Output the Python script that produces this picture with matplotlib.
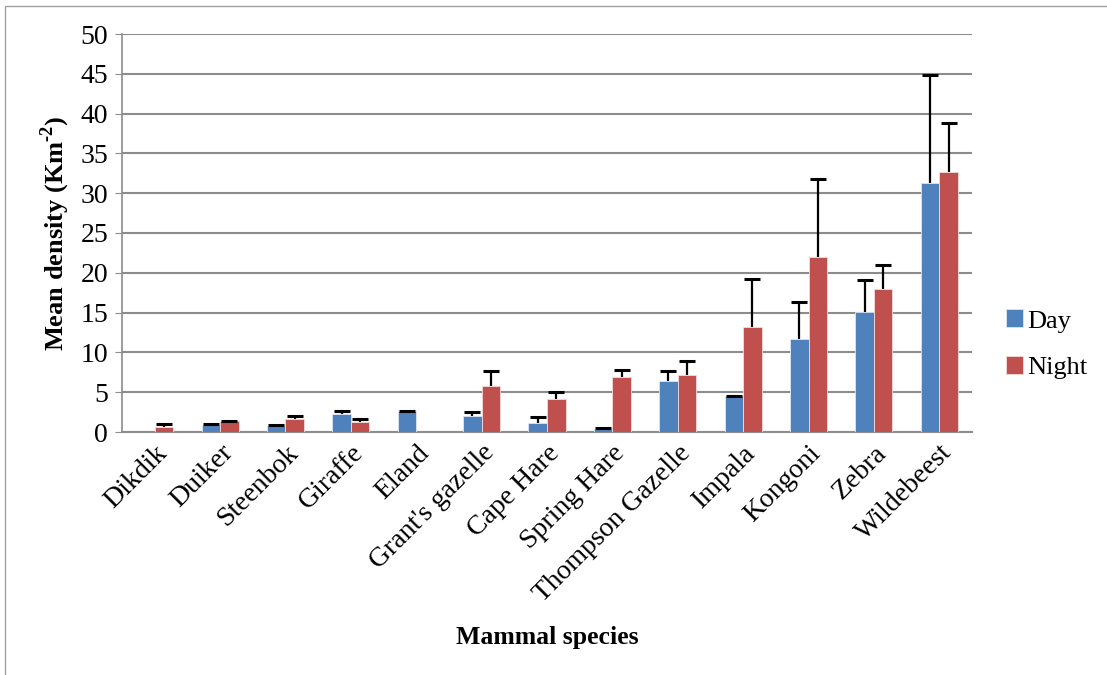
import numpy as np
import matplotlib.pyplot as plt
from matplotlib.patches import Rectangle

# Mean density per species, day vs night, with upper error (SE)
species = ["Dikdik", "Duiker", "Steenbok", "Giraffe", "Eland", "Grant's gazelle",
           "Cape Hare", "Spring Hare", "Thompson Gazelle", "Impala", "Kongoni",
           "Zebra", "Wildebeest"]
day = [0.0, 0.92, 0.8, 2.26, 2.64, 1.97, 1.09, 0.42, 6.4, 4.52, 11.72, 15.04, 31.28]
day_err = [0.0, 0.05, 0.06, 0.42, 0.06, 0.58, 0.76, 0.04, 1.22, 0.05, 4.61, 4.02, 13.57]
night = [0.67, 1.34, 1.6, 1.26, 0.0, 5.78, 4.1, 6.95, 7.12, 13.19, 21.95, 17.93, 32.62]
night_err = [0.3, 0.05, 0.45, 0.37, 0.0, 1.88, 0.88, 0.84, 1.84, 6.0, 9.8, 3.01, 6.24]

blue = "#4F81BD"
red = "#C0504D"
grid_col = "#8C8C8C"

plt.rcParams['font.family'] = ['Liberation Serif', 'DejaVu Serif']
plt.rcParams['mathtext.fontset'] = 'custom'
plt.rcParams['mathtext.rm'] = 'Liberation Serif:bold'
plt.rcParams['mathtext.bf'] = 'Liberation Serif:bold'


def upper_errors(ax, xs, vals, errs):
    """Plus-only error bars with a single cap, skipped where there is no bar."""
    xs = np.asarray(xs)
    vals = np.asarray(vals)
    errs = np.asarray(errs)
    keep = vals > 0
    xs, vals, errs = xs[keep], vals[keep], errs[keep]
    ax.vlines(xs, vals, vals + errs, color="black", linewidth=1.6, zorder=4)
    ax.plot(xs, vals + errs, linestyle="none", marker="_", markersize=11,
            markeredgewidth=2.2, color="black", zorder=4)


fig = plt.figure(figsize=(11.07, 6.75), dpi=100)
ax = fig.add_axes([122 / 1107, 1 - 432 / 675, (972 - 122) / 1107, (432 - 34) / 675])

# outer chart frame
fig.patches.append(Rectangle((5 / 1107, -0.01), 1.02, 1 - 6 / 675 + 0.01,
                             transform=fig.transFigure, fill=False,
                             edgecolor="#A0A0A0", linewidth=1.0))

x = np.arange(len(species))
w = 0.284
ax.bar(x - w / 2, day, w, color=blue, edgecolor="#DCE6F2", linewidth=0.6,
       label="Day", zorder=3)
ax.bar(x + w / 2, night, w, color=red, edgecolor="#F2DCDB", linewidth=0.6,
       label="Night", zorder=3)
upper_errors(ax, x - w / 2, day, day_err)
upper_errors(ax, x + w / 2, night, night_err)

ax.set_xlim(-0.5, len(species) - 0.5)
ax.set_ylim(0, 50)
ax.set_yticks(np.arange(0, 51, 5))
ax.yaxis.grid(True, color=grid_col, linewidth=1.5, zorder=0)
ax.set_axisbelow(True)

for side in ["top", "right"]:
    ax.spines[side].set_visible(False)
ax.spines["left"].set_color(grid_col)
ax.spines["bottom"].set_color(grid_col)
ax.spines["left"].set_linewidth(1.2)
ax.spines["bottom"].set_linewidth(1.5)

ax.tick_params(axis="y", labelsize=20, length=5, color=grid_col, pad=5)
ax.tick_params(axis="x", length=0, pad=6)
ax.set_xticks(x)
ax.set_xticklabels(species, rotation=45, ha="right", rotation_mode="anchor", fontsize=20)

ax.set_ylabel("Mean density (Km$^{\\text{-2}}$)", fontsize=19, fontweight="bold", labelpad=6)
ax.set_xlabel("Mammal species", fontsize=18.5, fontweight="bold", labelpad=14)

ax.legend(loc="center left", bbox_to_anchor=(1.012, 0.22), frameon=False, fontsize=19,
          handlelength=0.65, handleheight=0.65, handletextpad=0.15, labelspacing=0.9)

fig.savefig("out.png", dpi=100)
